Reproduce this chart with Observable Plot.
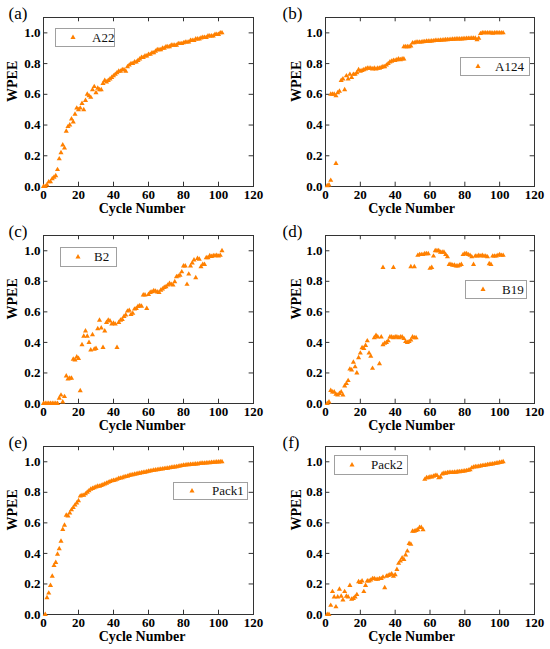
<!DOCTYPE html>
<html><head><meta charset="utf-8">
<script src="https://cdn.jsdelivr.net/npm/d3@7"></script>
<script src="https://cdn.jsdelivr.net/npm/@observablehq/plot@0.6"></script>
<style>
html,body{margin:0;padding:0;background:#fff;}
#fig{position:relative;width:550px;height:649px;overflow:hidden;font-family:"Liberation Serif","Times New Roman",serif;}
.panel{position:absolute;}
.legend{position:absolute;border:1px solid #a0a0a0;background:#fff;box-sizing:border-box;font-size:13px;color:#111;}
</style></head><body><div id="fig"></div><script>
// ---------- data ----------
const xTicks = [0, 20, 40, 60, 80, 100, 120];
const yTicks = [0, 0.2, 0.4, 0.6, 0.8, 1.0];
const xTitle = "Cycle Number";
const yTitle = "WPEE";
const seriesNames = ["A22", "A124", "B2", "B19", "Pack1", "Pack2"];
const panelLetters = ["(a)", "(b)", "(c)", "(d)", "(e)", "(f)"];

// A22: cycles 0..102
const a22Start = 0;
const a22Wpee = [
  0.00,0.00,0.01,0.03,0.03,0.05,0.06,0.07,0.11,0.18,
  0.22,0.27,0.25,0.36,0.39,0.40,0.44,0.42,0.47,0.51,
  0.50,0.51,0.54,0.50,0.56,0.60,0.59,0.58,0.63,0.65,
  0.61,0.64,0.63,0.63,0.67,0.69,0.68,0.69,0.70,0.71,
  0.72,0.73,0.74,0.75,0.75,0.76,0.76,0.75,0.78,0.79,
  0.80,0.80,0.81,0.81,0.82,0.83,0.84,0.84,0.85,0.85,
  0.86,0.86,0.87,0.87,0.88,0.89,0.89,0.89,0.90,0.90,
  0.91,0.91,0.91,0.92,0.92,0.92,0.92,0.93,0.93,0.93,
  0.935,0.94,0.94,0.94,0.95,0.95,0.95,0.96,0.96,0.96,
  0.967,0.97,0.97,0.97,0.98,0.98,0.98,0.98,0.99,0.99,
  0.99,1.00,1.00
];

// A124: explicit cycle / value pairs
const a124Cycle = [
  1,2,3,6,
  3,4,5,6,7,8,9,10,11,12,
  13,14,15,16,17,18,19,20,21,22,
  23,24,25,26,27,28,29,30,31,32,
  33,34,35,36,37,38,39,40,41,42,
  43,44,45,
  45,46,47,48,49,50,51,52,53,54,
  55,56,57,58,59,60,61,62,63,64,
  65,66,67,68,69,70,71,72,73,74,
  75,76,77,78,79,80,81,82,83,84,
  85,86,87,88,89,90,91,92,93,94,
  95,96,97,98,99,100,101,102
];
const a124Wpee = [
  0.005,0.01,0.04,0.15,
  0.60,0.60,0.60,0.59,0.61,0.62,0.69,0.70,0.63,0.72,
  0.70,0.73,0.71,0.73,0.73,0.74,0.76,0.75,0.755,0.76,
  0.765,0.77,0.77,0.77,0.765,0.77,0.765,0.77,0.77,0.775,
  0.78,0.78,0.79,0.80,0.81,0.815,0.82,0.82,0.825,0.83,
  0.825,0.83,0.83,
  0.91,0.91,0.91,0.91,0.915,0.935,0.935,0.94,0.94,0.94,
  0.94,0.942,0.943,0.945,0.945,0.945,0.947,0.948,0.95,0.95,
  0.95,0.952,0.953,0.954,0.955,0.955,0.956,0.957,0.958,0.958,
  0.96,0.96,0.96,0.96,0.962,0.962,0.963,0.963,0.964,0.965,
  0.965,0.965,0.955,0.965,0.995,1.0,1.0,1.0,1.0,1.0,
  1.0,0.998,1.0,1.0,1.0,1.0,1.0,1.0
];

// B2: cycles 0..102
const b2Start = 0;
const b2Wpee = [
  0,0,0,0,0,0,0,0,0,0.035,
  0.055,0.01,0.045,0.18,0.16,0.165,0.165,0.29,0.285,0.305,
  0.295,0.083,0.385,0.44,0.475,0.44,0.40,0.35,0.45,0.355,
  0.36,0.49,0.545,0.495,0.367,0.475,0.53,0.545,0.54,0.52,
  0.525,0.52,0.367,0.53,0.545,0.55,0.57,0.58,0.605,0.61,
  0.583,0.59,0.618,0.622,0.635,0.64,0.637,0.71,0.71,0.622,
  0.714,0.727,0.731,0.738,0.735,0.73,0.727,0.742,0.75,0.76,
  0.764,0.775,0.786,0.78,0.775,0.797,0.83,0.834,0.84,0.862,
  0.9,0.9,0.78,0.847,0.9,0.92,0.94,0.823,0.95,0.945,
  0.895,0.91,0.91,0.954,0.954,0.967,0.962,0.967,0.967,0.97,
  0.965,0.97,1.0
];

// B19: explicit cycle / value pairs
const b19Cycle = [
  1,2,3,4,5,6,7,8,9,10,
  11,12,13,14,15,16,17,18,19,20,
  21,22,23,24,25,26,27,28,29,30,
  31,32,33,34,35,36,37,38,39,40,
  41,42,43,44,45,46,47,48,49,50,
  51,52,
  33,39,49,51,
  53,54,55,56,57,58,59,60,61,62,
  63,64,65,66,67,68,69,70,71,72,
  73,74,75,76,77,78,79,80,81,82,
  83,84,85,86,87,88,89,90,91,92,
  93,94,95,96,97,98,99,100,101,102
];
const b19Wpee = [
  0.0,0.01,0.085,0.075,0.075,0.06,0.055,0.065,0.075,0.055,
  0.115,0.13,0.15,0.225,0.22,0.27,0.24,0.20,0.30,0.33,
  0.365,0.36,0.38,0.41,0.33,0.31,0.23,0.43,0.445,0.435,
  0.26,0.435,0.385,0.395,0.40,0.41,0.435,0.435,0.43,0.435,
  0.435,0.43,0.435,0.435,0.425,0.405,0.40,0.405,0.415,0.435,
  0.43,0.43,
  0.89,0.89,0.895,0.895,
  0.97,0.975,0.975,0.975,0.98,0.98,0.98,0.885,0.89,0.965,
  1.0,1.0,1.0,0.99,0.99,0.99,0.975,0.96,0.91,0.91,
  0.905,0.905,0.9,0.9,0.905,0.91,0.975,0.98,0.98,0.975,
  0.97,0.96,0.91,0.965,0.965,0.97,0.965,0.97,0.965,0.965,
  0.96,0.915,0.91,0.965,0.965,0.965,0.97,0.975,0.97,0.97
];

// Pack1: cycles 1..102
const pack1Start = 1;
const pack1Wpee = [
  0.00,0.11,0.14,0.19,0.25,0.32,0.34,0.395,0.43,0.48,
  0.557,0.585,0.65,0.645,0.665,0.685,0.70,0.716,0.73,0.745,
  0.775,0.78,0.78,0.79,0.80,0.81,0.82,0.825,0.83,0.835,
  0.84,0.84,0.845,0.85,0.855,0.86,0.865,0.87,0.875,0.878,
  0.88,0.885,0.89,0.893,0.895,0.90,0.903,0.905,0.91,0.913,
  0.915,0.918,0.92,0.923,0.925,0.928,0.93,0.932,0.935,0.938,
  0.94,0.942,0.944,0.946,0.948,0.95,0.952,0.953,0.955,0.956,
  0.958,0.96,0.962,0.964,0.966,0.968,0.97,0.972,0.975,0.977,
  0.978,0.98,0.981,0.982,0.983,0.984,0.985,0.986,0.988,0.99,
  0.99,0.991,0.992,0.993,0.994,0.995,0.996,0.997,0.998,0.999,
  1.0,1.0
];

// Pack2: cycles 1..102
const pack2Start = 1;
const pack2Wpee = [
  0.0,0.0,0.06,0.15,0.115,0.05,0.115,0.165,0.12,0.095,
  0.15,0.12,0.115,0.19,0.10,0.105,0.115,0.13,0.215,0.21,
  0.22,0.15,0.19,0.22,0.22,0.225,0.235,0.235,0.23,0.23,
  0.235,0.235,0.245,0.175,0.25,0.255,0.26,0.265,0.25,0.26,
  0.295,0.335,0.35,0.37,0.36,0.39,0.415,0.465,0.46,0.545,
  0.545,0.55,0.555,0.57,0.57,0.555,0.885,0.895,0.895,0.90,
  0.90,0.905,0.91,0.91,0.895,0.90,0.92,0.925,0.925,0.928,
  0.93,0.93,0.93,0.932,0.932,0.935,0.935,0.937,0.938,0.94,
  0.942,0.945,0.948,0.96,0.965,0.967,0.968,0.97,0.972,0.975,
  0.976,0.978,0.98,0.982,0.984,0.986,0.988,0.99,0.992,0.995,
  0.997,1.0
];

// ---------- build ----------
const color = "#ff8000";
const ink = "#333";
const font = '"Liberation Serif","Times New Roman",serif';

const indexed = (start, vals) => vals.map((v, i) => ({cycle: start + i, wpee: v}));
const paired = (cs, vals) => cs.map((c, i) => ({cycle: c, wpee: vals[i]}));

const datasets = [
  indexed(a22Start, a22Wpee),
  paired(a124Cycle, a124Wpee),
  indexed(b2Start, b2Wpee),
  paired(b19Cycle, b19Wpee),
  indexed(pack1Start, pack1Wpee),
  indexed(pack2Start, pack2Wpee)
];

const rows = [
  {top: 0, h: 215, mt: 17, mb: 29},
  {top: 215, h: 215, mt: 20, mb: 27},
  {top: 430, h: 219, mt: 16, mb: 35}
];
const cols = [
  {left: 0, w: 275, ml: 43, mr: 22, titleDx: -6.5, yTitleDx: -26.5, letterDx: -35},
  {left: 275, w: 275, ml: 50, mr: 16, titleDx: -18.5, yTitleDx: -25, letterDx: -43}
];
// legend boxes (page px): x, y, w, h, triangle offset, text offset
const legends = [
  {x: 55, y: 28, w: 60, h: 19, tri: 18, text: 37},
  {x: 460, y: 57, w: 70, h: 19, tri: 18, text: 35},
  {x: 60, y: 247, w: 57, h: 20, tri: 18, text: 34},
  {x: 465, y: 280, w: 62, h: 19, tri: 18, text: 37},
  {x: 173, y: 482, w: 75, h: 18, tri: 19, text: 39},
  {x: 334, y: 455, w: 74, h: 20, tri: 18, text: 37}
];

const fig = document.getElementById("fig");
const R = 1.9;
const triPath = d3.symbol(d3.symbolTriangle, Math.PI * R * R)();

datasets.forEach((data, k) => {
  const row = rows[Math.floor(k / 2)];
  const col = cols[k % 2];
  const chart = Plot.plot({
    width: col.w, height: row.h,
    marginTop: row.mt, marginBottom: row.mb, marginLeft: col.ml, marginRight: col.mr,
    style: {fontFamily: font, fontSize: "13px", background: "transparent", overflow: "visible", color: "#000"},
    x: {domain: [0, 120]},
    y: {domain: [0, 1.1]},
    marks: [
      Plot.ruleX(xTicks, {x: d => d, y1: 0, y2: 0.028, stroke: ink}),
      Plot.ruleX(xTicks, {x: d => d, y1: 1.1, y2: 1.072, stroke: ink}),
      Plot.ruleY(yTicks, {y: d => d, x1: 0, x2: 2.5, stroke: ink}),
      Plot.ruleY(yTicks, {y: d => d, x1: 120, x2: 117.5, stroke: ink}),
      Plot.frame({stroke: ink}),
      Plot.axisX(xTicks, {tickSize: 0, tickPadding: 3.5, fontWeight: "bold", fontSize: 13, label: null}),
      Plot.axisY(yTicks, {tickSize: 0, tickPadding: 3, fontWeight: "bold", fontSize: 13, tickFormat: d3.format(".1f"), label: null}),
      Plot.dot(data, {x: "cycle", y: "wpee", symbol: "triangle", r: R, fill: color}),
      Plot.text([xTitle], {text: d => d, frameAnchor: "bottom", lineAnchor: "bottom", dy: 26.5, dx: col.titleDx, fontWeight: "bold", fontSize: 14}),
      Plot.text([yTitle], {text: d => d, frameAnchor: "left", lineAnchor: "bottom", rotate: -90, dx: col.yTitleDx, fontWeight: "bold", fontSize: 14}),
      Plot.text([panelLetters[k]], {text: d => d, frameAnchor: "top-left", textAnchor: "start", lineAnchor: "bottom", dx: col.letterDx, dy: 1.5, fontSize: 17})
    ]
  });
  const wrap = document.createElement("div");
  wrap.className = "panel";
  wrap.style.left = col.left + "px";
  wrap.style.top = row.top + "px";
  wrap.appendChild(chart);
  fig.appendChild(wrap);

  const lg = legends[k];
  const box = document.createElement("div");
  box.className = "legend";
  box.style.left = lg.x + "px";
  box.style.top = lg.y + "px";
  box.style.width = lg.w + "px";
  box.style.height = lg.h + "px";
  const ih = lg.h - 2;
  box.innerHTML =
    `<svg width="${lg.w - 2}" height="${ih}" style="position:absolute;left:0;top:0">` +
    `<path d="${triPath}" transform="translate(${lg.tri - 1},${ih / 2})" fill="${color}"/></svg>` +
    `<span style="position:absolute;left:${lg.text - 1}px;top:0;line-height:${ih}px;white-space:nowrap">${seriesNames[k]}</span>`;
  fig.appendChild(box);
});
</script></body></html>
